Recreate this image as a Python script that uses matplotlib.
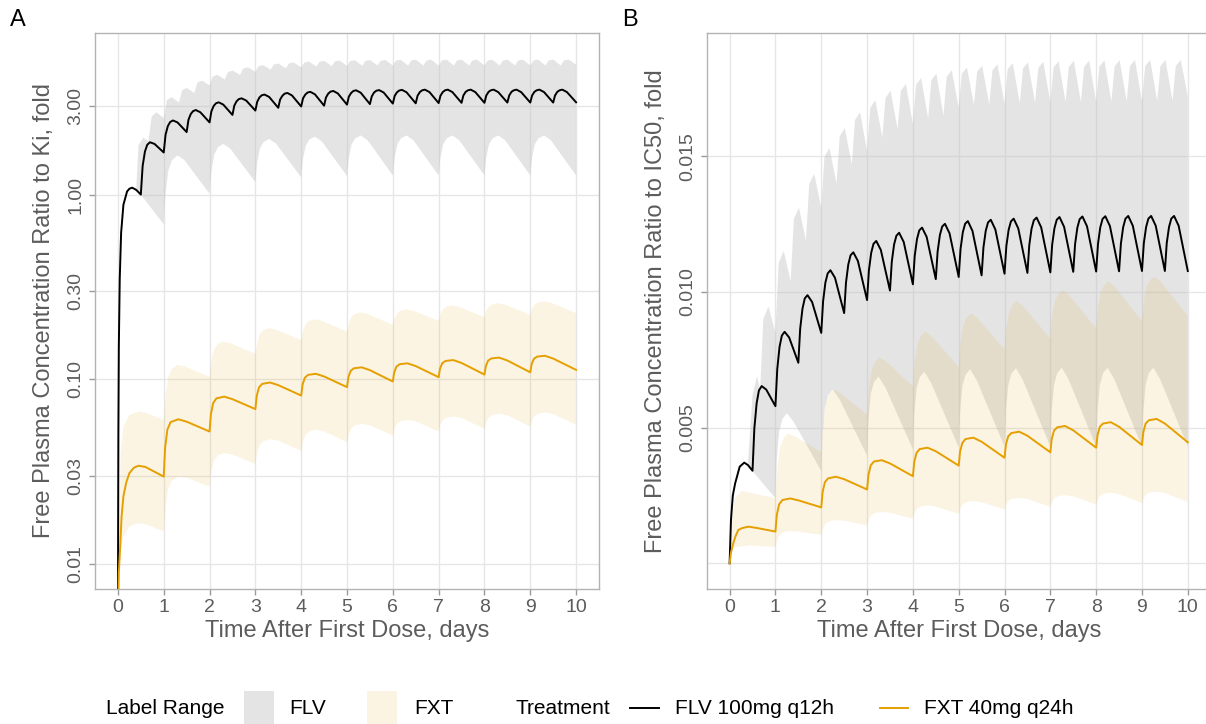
import numpy as np
import matplotlib
matplotlib.use('Agg')
import matplotlib.pyplot as plt
from matplotlib.patches import Rectangle
from matplotlib.lines import Line2D

plt.rcParams['font.family'] = ['Liberation Sans', 'DejaVu Sans']

# ---------------- dosing times (days) ----------------
flv_doses = [0.5, 1.0, 1.5, 2.0, 2.5, 3.0, 3.5, 4.0, 4.5, 5.0,
             5.5, 6.0, 6.5, 7.0, 7.5, 8.0, 8.5, 9.0, 9.5]          # q12h
fxt_doses = [1, 2, 3, 4, 5, 6, 7, 8, 9]                              # q24h
flv_hi_doses = [0.667, 1.0, 1.333, 1.667, 2.0, 2.333, 2.667, 3.0, 3.333, 3.667,
                4.0, 4.333, 4.667, 5.0, 5.333, 5.667, 6.0, 6.333, 6.667, 7.0,
                7.333, 7.667, 8.0, 8.333, 8.667, 9.0, 9.333, 9.667]  # q8h (upper label range)

# time after each dose at which the values in a row were read
flv_dt = [0, 0.04, 0.09, 0.14, 0.2, 0.3]
fxt_dt = [0, 0.03, 0.08, 0.15, 0.32, 0.5]
flv_hi_dt_a = [0, 0.07, 0.17]
flv_hi_dt_b = [0, 0.07, 0.18]
flv_lo_dt_a = [0, 0.04, 0.1, 0.18, 0.3, 0.45]
flv_lo_dt_b = [0, 0.03, 0.08, 0.15, 0.25, 0.4]
fxt_hi_dt_a = [0, 0.04, 0.1, 0.18, 0.3, 0.45]
fxt_hi_dt_b = [0, 0.04, 0.1, 0.18, 0.27, 0.4]
fxt_lo_dt = [0, 0.04, 0.1, 0.18, 0.33, 0.5]

# ================= panel A: ratio to Ki (log axis) =================
a_flv_head_t = [0.0, 0.01, 0.02, 0.04, 0.07, 0.12, 0.20, 0.25, 0.31, 0.40]
a_flv_head_v = [0.005, 0.05, 0.15, 0.35, 0.62, 0.88, 1.04, 1.075, 1.09, 1.06]
a_flv_rows = [
    [1.00, 1.43, 1.71, 1.86, 1.92, 1.88],
    [1.69, 2.11, 2.35, 2.47, 2.52, 2.46],
    [2.18, 2.54, 2.73, 2.83, 2.87, 2.79],
    [2.46, 2.82, 3.02, 3.12, 3.16, 3.07],
    [2.70, 3.03, 3.20, 3.29, 3.32, 3.23],
    [2.85, 3.18, 3.36, 3.45, 3.48, 3.38],
    [2.95, 3.27, 3.43, 3.52, 3.55, 3.44],
    [3.00, 3.32, 3.48, 3.57, 3.60, 3.49],
    [3.03, 3.35, 3.52, 3.61, 3.64, 3.53],
    [3.07, 3.39, 3.55, 3.64, 3.67, 3.56],
    [3.09, 3.40, 3.57, 3.65, 3.68, 3.57],
    [3.11, 3.42, 3.58, 3.66, 3.69, 3.58],
    [3.12, 3.43, 3.59, 3.67, 3.70, 3.59],
    [3.13, 3.43, 3.59, 3.67, 3.70, 3.59],
    [3.14, 3.44, 3.60, 3.67, 3.70, 3.59],
    [3.14, 3.44, 3.60, 3.67, 3.70, 3.59],
    [3.15, 3.44, 3.60, 3.67, 3.70, 3.59],
    [3.15, 3.44, 3.60, 3.67, 3.70, 3.59],
    [3.15, 3.44, 3.60, 3.67, 3.70, 3.59],
]
a_flv_end = 3.16

a_fxt_head_t = [0.0, 0.02, 0.05, 0.08, 0.12, 0.18, 0.25, 0.35, 0.45, 0.6]
a_fxt_head_v = [0.005, 0.009, 0.0124, 0.018, 0.0232, 0.0275, 0.031, 0.0332, 0.034, 0.0335]
a_fxt_rows = [
    [0.0297, 0.0425, 0.0534, 0.0586, 0.0607, 0.0589],
    [0.0521, 0.0648, 0.0744, 0.0788, 0.0805, 0.0780],
    [0.0689, 0.0813, 0.0904, 0.0944, 0.0960, 0.0929],
    [0.0816, 0.0934, 0.1019, 0.1056, 0.1070, 0.1035],
    [0.0906, 0.1025, 0.1110, 0.1146, 0.1160, 0.1120],
    [0.0972, 0.1089, 0.1171, 0.1206, 0.1220, 0.1178],
    [0.1026, 0.1142, 0.1222, 0.1256, 0.1270, 0.1225],
    [0.1060, 0.1178, 0.1261, 0.1296, 0.1310, 0.1263],
    [0.1090, 0.1209, 0.1291, 0.1326, 0.1340, 0.1294],
]
a_fxt_end = 0.1124

# FLV label range
a_flvr_hi_head_t = [0.40, 0.45, 0.55]
a_flvr_hi_head_v = [1.08, 1.85, 2.03]
a_flvr_hi_rows = [
    [1.95, 2.644, 2.79], [2.60, 3.241, 3.37], [3.15, 3.678, 3.78], [3.55, 4.046, 4.14],
    [3.90, 4.363, 4.45], [4.20, 4.613, 4.69], [4.45, 4.821, 4.89], [4.62, 4.958, 5.02],
    [4.75, 5.063, 5.12], [4.83, 5.134, 5.19], [4.88, 5.193, 5.25], [4.93, 5.243, 5.30],
    [4.96, 5.265, 5.32], [4.98, 5.284, 5.34], [4.99, 5.294, 5.35], [5.00, 5.304, 5.36],
    [5.00, 5.313, 5.37], [5.00, 5.32, 5.38], [5.00, 5.32, 5.38], [5.00, 5.32, 5.38],
    [5.00, 5.32, 5.38], [5.00, 5.32, 5.38], [5.00, 5.32, 5.38], [5.00, 5.32, 5.38],
    [5.00, 5.32, 5.38], [5.00, 5.32, 5.38], [5.00, 5.32, 5.38], [5.00, 5.32, 5.38],
]
a_flvr_hi_end = 5.05
a_flvr_lo_head_t = [0.40, 0.50]
a_flvr_lo_head_v = [1.08, 1.00]
a_flvr_lo_rows = [
    [0.69, 1.016, 1.349, 1.535, 1.63, 1.539],
    [1.01, 1.336, 1.640, 1.800, 1.88, 1.776],
    [1.17, 1.489, 1.777, 1.927, 2.00, 1.888],
    [1.24, 1.558, 1.842, 1.988, 2.06, 1.942],
    [1.26, 1.582, 1.870, 2.017, 2.09, 1.969],
    [1.27, 1.589, 1.873, 2.018, 2.09, 1.969],
    [1.27, 1.589, 1.873, 2.018, 2.09, 1.969],
    [1.27, 1.589, 1.873, 2.018, 2.09, 1.969],
    [1.27, 1.589, 1.873, 2.018, 2.09, 1.969],
]
a_flvr_lo_end = 1.27

# FXT label range
a_fxtr_hi_head_t = [0.03, 0.06, 0.12, 0.25, 0.45, 0.6]
a_fxtr_hi_head_v = [0.012, 0.040, 0.055, 0.064, 0.0668, 0.066]
a_fxtr_hi_rows = [
    [0.0602, 0.0820, 0.1028, 0.1140, 0.1196, 0.1175],
    [0.1030, 0.1256, 0.1452, 0.1551, 0.1600, 0.1570],
    [0.1370, 0.1583, 0.1761, 0.1848, 0.1890, 0.1857],
    [0.1630, 0.1831, 0.1994, 0.2072, 0.2110, 0.2072],
    [0.1810, 0.2016, 0.2182, 0.2262, 0.2300, 0.2258],
    [0.1970, 0.2149, 0.2291, 0.2358, 0.2390, 0.2349],
    [0.2070, 0.2258, 0.2406, 0.2477, 0.2510, 0.2466],
    [0.2166, 0.2343, 0.2483, 0.2549, 0.2580, 0.2535],
    [0.2230, 0.2406, 0.2544, 0.2609, 0.2640, 0.2594],
]
a_fxtr_hi_end = 0.228
a_fxtr_lo_head_t = [0.03, 0.06, 0.12, 0.25, 0.45, 0.6]
a_fxtr_lo_head_v = [0.0095, 0.0115, 0.014, 0.016, 0.0166, 0.0164]
a_fxtr_lo_rows = [
    [0.0150, 0.0204, 0.0256, 0.0283, 0.0297, 0.0293],
    [0.0262, 0.0316, 0.0363, 0.0387, 0.0398, 0.0391],
    [0.0347, 0.0399, 0.0442, 0.0463, 0.0473, 0.0465],
    [0.0409, 0.0460, 0.0502, 0.0522, 0.0532, 0.0522],
    [0.0456, 0.0505, 0.0545, 0.0564, 0.0573, 0.0563],
    [0.0496, 0.0541, 0.0577, 0.0594, 0.0602, 0.0592],
    [0.0521, 0.0567, 0.0603, 0.0620, 0.0628, 0.0617],
    [0.0539, 0.0586, 0.0623, 0.0641, 0.0649, 0.0637],
    [0.0555, 0.0600, 0.0635, 0.0652, 0.0660, 0.0648],
]
a_fxtr_lo_end = 0.0566

# ================= panel B: ratio to IC50 (linear axis) =================
b_flv_head_t = [0.0, 0.03, 0.07, 0.12, 0.22, 0.32, 0.40]
b_flv_head_v = [0.0, 0.0016, 0.0025, 0.00294, 0.00356, 0.00371, 0.00362]
b_flv_rows = [
    [0.00341, 0.00497, 0.00590, 0.00637, 0.00653, 0.00640],
    [0.00579, 0.00716, 0.00798, 0.00839, 0.00853, 0.00832],
    [0.00739, 0.00864, 0.00938, 0.00976, 0.00988, 0.00963],
    [0.00849, 0.00965, 0.01034, 0.01068, 0.01080, 0.01052],
    [0.00922, 0.01034, 0.01101, 0.01135, 0.01146, 0.01114],
    [0.00970, 0.01079, 0.01144, 0.01177, 0.01188, 0.01155],
    [0.01005, 0.01112, 0.01175, 0.01207, 0.01218, 0.01184],
    [0.01028, 0.01133, 0.01195, 0.01227, 0.01237, 0.01203],
    [0.01047, 0.01149, 0.01210, 0.01241, 0.01251, 0.01216],
    [0.01055, 0.01158, 0.01220, 0.01251, 0.01261, 0.01225],
    [0.01061, 0.01164, 0.01225, 0.01256, 0.01266, 0.01230],
    [0.01067, 0.01169, 0.01229, 0.01260, 0.01270, 0.01234],
    [0.01070, 0.01172, 0.01233, 0.01264, 0.01274, 0.01238],
    [0.01072, 0.01174, 0.01235, 0.01266, 0.01276, 0.01240],
    [0.01074, 0.01176, 0.01237, 0.01268, 0.01278, 0.01242],
    [0.01075, 0.01177, 0.01238, 0.01269, 0.01279, 0.01243],
    [0.01076, 0.01178, 0.01239, 0.01270, 0.01280, 0.01244],
    [0.01077, 0.01179, 0.01239, 0.01270, 0.01280, 0.01244],
    [0.01077, 0.01179, 0.01239, 0.01270, 0.01280, 0.01244],
]
b_flv_end = 0.01077

b_fxt_head_t = [0.0, 0.03, 0.08, 0.13, 0.19, 0.28, 0.41, 0.6]
b_fxt_head_v = [0.0, 0.0004, 0.00074, 0.0010, 0.00123, 0.0013, 0.00135, 0.0013]
b_fxt_rows = [
    [0.00117, 0.00178, 0.00217, 0.00233, 0.00239, 0.00232],
    [0.00206, 0.00263, 0.00299, 0.00313, 0.00319, 0.00310],
    [0.00272, 0.00326, 0.00361, 0.00375, 0.00380, 0.00368],
    [0.00321, 0.00374, 0.00407, 0.00421, 0.00426, 0.00413],
    [0.00360, 0.00412, 0.00444, 0.00458, 0.00463, 0.00448],
    [0.00389, 0.00437, 0.00468, 0.00480, 0.00485, 0.00470],
    [0.00409, 0.00458, 0.00489, 0.00501, 0.00506, 0.00490],
    [0.00426, 0.00473, 0.00503, 0.00515, 0.00520, 0.00503],
    [0.00436, 0.00484, 0.00515, 0.00527, 0.00532, 0.00515],
]
b_fxt_end = 0.00446

b_flvr_hi_head_t = [0.40, 0.50, 0.60]
b_flvr_hi_head_v = [0.0037, 0.0062, 0.0069]
b_flvr_hi_rows = [
    [0.0064, 0.00901, 0.00947], [0.0085, 0.01106, 0.01151], [0.0104, 0.01270, 0.0131],
    [0.0119, 0.01398, 0.01435], [0.0131, 0.01498, 0.01531], [0.0140, 0.01573, 0.01604],
    [0.0147, 0.01633, 0.01662], [0.0152, 0.01679, 0.01707], [0.0157, 0.01715, 0.01741],
    [0.0160, 0.01741, 0.01766], [0.0162, 0.01763, 0.01788], [0.0164, 0.01780, 0.01805],
    [0.0165, 0.01792, 0.01817], [0.0168, 0.01805, 0.01827], [0.0169, 0.01812, 0.01833],
    [0.01692, 0.01817, 0.01839], [0.01694, 0.01821, 0.01843], [0.01696, 0.01824, 0.01846],
    [0.01697, 0.01825, 0.01848], [0.01699, 0.01827, 0.0185], [0.0170, 0.01829, 0.01852],
    [0.0170, 0.01829, 0.01852], [0.01701, 0.0183, 0.01853], [0.01702, 0.01831, 0.01854],
    [0.01702, 0.01832, 0.01855], [0.01703, 0.01832, 0.01855], [0.01703, 0.01832, 0.01855],
    [0.01704, 0.01832, 0.01855],
]
b_flvr_hi_end = 0.0172
b_flvr_lo_head_t = [0.40, 0.50]
b_flvr_lo_head_v = [0.0037, 0.0034]
b_flvr_lo_rows = [
    [0.0024, 0.00381, 0.00484, 0.00531, 0.00553, 0.00521],
    [0.0034, 0.00475, 0.00574, 0.00619, 0.00640, 0.00604],
    [0.00397, 0.00528, 0.00624, 0.00668, 0.00688, 0.00648],
    [0.0042, 0.00549, 0.00643, 0.00686, 0.00706, 0.00664],
    [0.00427, 0.00557, 0.00652, 0.00695, 0.00715, 0.00672],
    [0.0043, 0.00560, 0.00655, 0.00699, 0.00719, 0.00676],
    [0.0043, 0.00561, 0.00657, 0.00701, 0.00721, 0.00677],
    [0.0043, 0.00561, 0.00657, 0.00701, 0.00721, 0.00677],
    [0.0043, 0.00561, 0.00657, 0.00701, 0.00721, 0.00677],
]
b_flvr_lo_end = 0.0043

b_fxtr_hi_head_t = [0.03, 0.06, 0.12, 0.26, 0.45]
b_fxtr_hi_head_v = [0.0005, 0.0017, 0.0024, 0.00267, 0.0026]
b_fxtr_hi_rows = [
    [0.0024, 0.00347, 0.00426, 0.00461, 0.00478, 0.00470],
    [0.0041, 0.00514, 0.00589, 0.00624, 0.00640, 0.00629],
    [0.00548, 0.00643, 0.00713, 0.00744, 0.00759, 0.00746],
    [0.00652, 0.00742, 0.00809, 0.00839, 0.00853, 0.00838],
    [0.00724, 0.00813, 0.00878, 0.00907, 0.00921, 0.00905],
    [0.00788, 0.00868, 0.00926, 0.00953, 0.00965, 0.00949],
    [0.00828, 0.00909, 0.00968, 0.00994, 0.01007, 0.00990],
    [0.00866, 0.00943, 0.01000, 0.01026, 0.01038, 0.01020],
    [0.00892, 0.00966, 0.01020, 0.01045, 0.01056, 0.01039],
]
b_fxtr_hi_end = 0.00912
b_fxtr_lo_head_t = [0.03, 0.06, 0.12, 0.45]
b_fxtr_lo_head_v = [0.0003, 0.0005, 0.0006, 0.00066]
b_fxtr_lo_rows = [
    [0.0006, 0.00087, 0.00106, 0.00115, 0.00119, 0.00117],
    [0.00105, 0.00129, 0.00147, 0.00155, 0.00159, 0.00157],
    [0.00139, 0.00162, 0.00178, 0.00186, 0.00189, 0.00186],
    [0.00164, 0.00186, 0.00202, 0.00210, 0.00213, 0.00209],
    [0.00182, 0.00203, 0.00219, 0.00226, 0.00229, 0.00225],
    [0.00198, 0.00217, 0.00232, 0.00238, 0.00241, 0.00237],
    [0.00208, 0.00227, 0.00242, 0.00248, 0.00251, 0.00247],
    [0.00216, 0.00236, 0.00250, 0.00257, 0.00260, 0.00255],
    [0.00222, 0.00241, 0.00255, 0.00261, 0.00264, 0.00259],
]
b_fxtr_lo_end = 0.00226

a_yticks = [0.01, 0.03, 0.1, 0.3, 1, 3]
a_ylabels = ['0.01', '0.03', '0.10', '0.30', '1.00', '3.00']
b_yticks = [0.005, 0.010, 0.015]
b_ylabels = ['0.005', '0.010', '0.015']
x_ticks = [0, 1, 2, 3, 4, 5, 6, 7, 8, 9, 10]

FLV_RANGE = '#bdbdbd'
FXT_COL = '#E69F00'
GRID = '#e6e6e6'
TXT = '#5c5c5c'


def pk_curve(head_t, head_v, doses, dts, rows, end_v):
    """join the first-dose part with one row of readings per later dose"""
    t = list(head_t)
    v = list(head_v)
    for d, row in zip(doses, rows):
        for dt, val in zip(dts, row):
            t.append(d + dt)
            v.append(val)
    t.append(10.0)
    v.append(end_v)
    return np.array(t), np.array(v)


def ribbon(ax, upper, lower, color, alpha):
    tu, vu = upper
    tl, vl = lower
    xs = np.concatenate([tu, tl[::-1]])
    ys = np.concatenate([vu, vl[::-1]])
    ax.fill(xs, ys, color=color, alpha=alpha, lw=0, zorder=1)


def style_axes(ax):
    ax.set_xlim(-0.5, 10.5)
    ax.set_xticks(x_ticks)
    ax.grid(True, color=GRID, lw=1.0)
    ax.minorticks_off()
    ax.set_axisbelow(True)
    for s in ax.spines.values():
        s.set_color('#b3b3b3')
        s.set_linewidth(1.0)
    ax.tick_params(colors='#9a9a9a', labelcolor=TXT, labelsize=14, length=4, width=1)
    ax.tick_params(axis='y', labelrotation=90)
    for lab in ax.get_yticklabels():
        lab.set_va('center')
    ax.set_xlabel('Time After First Dose, days', fontsize=17, color=TXT, labelpad=3)


W, H = 1206, 724
fig = plt.figure(figsize=(W / 100, H / 100), dpi=100)
axA = fig.add_axes([95 / W, 1 - 588.7 / H, 504 / W, 555.4 / H])
axB = fig.add_axes([706.7 / W, 1 - 588.7 / H, 504 / W, 555.4 / H])

# ---- panel A ----
axA.set_yscale('log')
ribbon(axA,
       pk_curve(a_flvr_hi_head_t, a_flvr_hi_head_v, flv_hi_doses, flv_hi_dt_a, a_flvr_hi_rows, a_flvr_hi_end),
       pk_curve(a_flvr_lo_head_t, a_flvr_lo_head_v, fxt_doses, flv_lo_dt_a, a_flvr_lo_rows, a_flvr_lo_end),
       FLV_RANGE, 0.4)
ribbon(axA,
       pk_curve(a_fxtr_hi_head_t, a_fxtr_hi_head_v, fxt_doses, fxt_hi_dt_a, a_fxtr_hi_rows, a_fxtr_hi_end),
       pk_curve(a_fxtr_lo_head_t, a_fxtr_lo_head_v, fxt_doses, fxt_lo_dt, a_fxtr_lo_rows, a_fxtr_lo_end),
       FXT_COL, 0.11)
t, v = pk_curve(a_flv_head_t, a_flv_head_v, flv_doses, flv_dt, a_flv_rows, a_flv_end)
axA.plot(t, v, color='black', lw=1.4, zorder=3)
t, v = pk_curve(a_fxt_head_t, a_fxt_head_v, fxt_doses, fxt_dt, a_fxt_rows, a_fxt_end)
axA.plot(t, v, color=FXT_COL, lw=1.4, zorder=3)
axA.set_ylim(0.00734, 7.47)
axA.set_yticks(a_yticks)
axA.set_yticklabels(a_ylabels)
style_axes(axA)
axA.set_ylabel('Free Plasma Concentration Ratio to Ki, fold', fontsize=17, color=TXT, labelpad=9)

# ---- panel B ----
axB.axhline(0, color=GRID, lw=1.0, zorder=0.5)
ribbon(axB,
       pk_curve(b_flvr_hi_head_t, b_flvr_hi_head_v, flv_hi_doses, flv_hi_dt_b, b_flvr_hi_rows, b_flvr_hi_end),
       pk_curve(b_flvr_lo_head_t, b_flvr_lo_head_v, fxt_doses, flv_lo_dt_b, b_flvr_lo_rows, b_flvr_lo_end),
       FLV_RANGE, 0.4)
ribbon(axB,
       pk_curve(b_fxtr_hi_head_t, b_fxtr_hi_head_v, fxt_doses, fxt_hi_dt_b, b_fxtr_hi_rows, b_fxtr_hi_end),
       pk_curve(b_fxtr_lo_head_t, b_fxtr_lo_head_v, fxt_doses, fxt_lo_dt, b_fxtr_lo_rows, b_fxtr_lo_end),
       FXT_COL, 0.11)
t, v = pk_curve(b_flv_head_t, b_flv_head_v, flv_doses, flv_dt, b_flv_rows, b_flv_end)
axB.plot(t, v, color='black', lw=1.4, zorder=3)
t, v = pk_curve(b_fxt_head_t, b_fxt_head_v, fxt_doses, fxt_dt, b_fxt_rows, b_fxt_end)
axB.plot(t, v, color=FXT_COL, lw=1.4, zorder=3)
axB.set_ylim(-0.000936, 0.01953)
axB.set_yticks(b_yticks)
axB.set_yticklabels(b_ylabels)
style_axes(axB)
axB.set_ylabel('Free Plasma Concentration Ratio to IC50, fold', fontsize=17, color=TXT, labelpad=9)

# panel tags
fig.text(18 / W, 1 - 20 / H, 'A', fontsize=17, ha='center', va='center')
fig.text(630 / W, 1 - 20 / H, 'B', fontsize=17, ha='center', va='center')


# ---- legend (ggplot style, bottom) ----
def fx(px):
    return px / W


def fy(py):
    return 1 - py / H


ly = 708
fig.text(fx(106), fy(ly), 'Label Range', fontsize=15, va='center')
fig.add_artist(Rectangle((fx(244), fy(724)), 30 / W, 33 / H, transform=fig.transFigure,
                         facecolor=FLV_RANGE, alpha=0.4, lw=0))
fig.text(fx(289), fy(ly), 'FLV', fontsize=15, va='center')
fig.add_artist(Rectangle((fx(367), fy(724)), 30 / W, 33 / H, transform=fig.transFigure,
                         facecolor=FXT_COL, alpha=0.11, lw=0))
fig.text(fx(414), fy(ly), 'FXT', fontsize=15, va='center')
fig.text(fx(515), fy(ly), 'Treatment', fontsize=15, va='center')
fig.add_artist(Line2D([fx(630), fx(659)], [fy(ly), fy(ly)], transform=fig.transFigure,
                      color='black', lw=1.4))
fig.text(fx(675), fy(ly), 'FLV 100mg q12h', fontsize=15, va='center')
fig.add_artist(Line2D([fx(880), fx(908)], [fy(ly), fy(ly)], transform=fig.transFigure,
                      color=FXT_COL, lw=1.4))
fig.text(fx(924), fy(ly), 'FXT 40mg q24h', fontsize=15, va='center')

fig.savefig('out.png', dpi=100)
